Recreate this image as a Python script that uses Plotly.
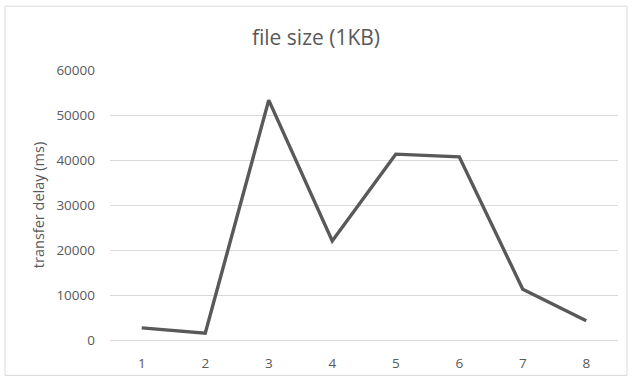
import plotly.graph_objects as go

categories = ["1", "2", "3", "4", "5", "6", "7", "8"]
delay_ms = [2700, 1500, 53300, 22000, 41300, 40700, 11300, 4300]
y_ticks = [0, 10000, 20000, 30000, 40000, 50000, 60000]

W, H = 632, 384
L, R, T, B = 110, 14, 70, 39
pw, ph = W - L - R, H - T - B

fig = go.Figure(go.Scatter(
    x=categories, y=delay_ms, mode="lines",
    line=dict(color="#595959", width=3.4),
))

def px_x(p):
    return (p - L) / pw

def px_y(p):
    return (H - B - p) / ph

fig.update_layout(
    width=W, height=H,
    margin=dict(l=L, r=R, t=T, b=B),
    paper_bgcolor="white", plot_bgcolor="white",
    font=dict(family="Open Sans, Liberation Sans, sans-serif", color="#595959", size=13),
    title=dict(text="file size (1KB)", x=0.5, xanchor="center",
               y=1 - 38 / H, yanchor="middle", yref="container",
               font=dict(size=21, color="#595959")),
    showlegend=False,
    xaxis=dict(type="category", range=[-0.5, 7.5], showgrid=False,
               showline=True, linecolor="#d9d9d9", linewidth=1,
               ticks="", tickfont=dict(size=13.5, color="#595959"),
               ticklabelstandoff=11, zeroline=False),
    yaxis=dict(range=[0, 60000], tickvals=y_ticks, showgrid=True,
               gridcolor="#d9d9d9", gridwidth=1, zeroline=False,
               showline=False, ticks="", tickformat="d",
               tickfont=dict(size=13.5, color="#595959"),
               ticklabelstandoff=14,
               title=dict(text="transfer delay (ms)", standoff=8,
                          font=dict(size=14.5, color="#595959"))),
    shapes=[dict(type="rect", xref="paper", yref="paper",
                 x0=px_x(5), x1=px_x(627), y0=px_y(381), y1=px_y(5),
                 line=dict(color="#d9d9d9", width=1), fillcolor="rgba(0,0,0,0)",
                 layer="below")],
)

fig.write_html("out.html", config={"displayModeBar": False},
               post_script="document.body.style.margin='0';")
